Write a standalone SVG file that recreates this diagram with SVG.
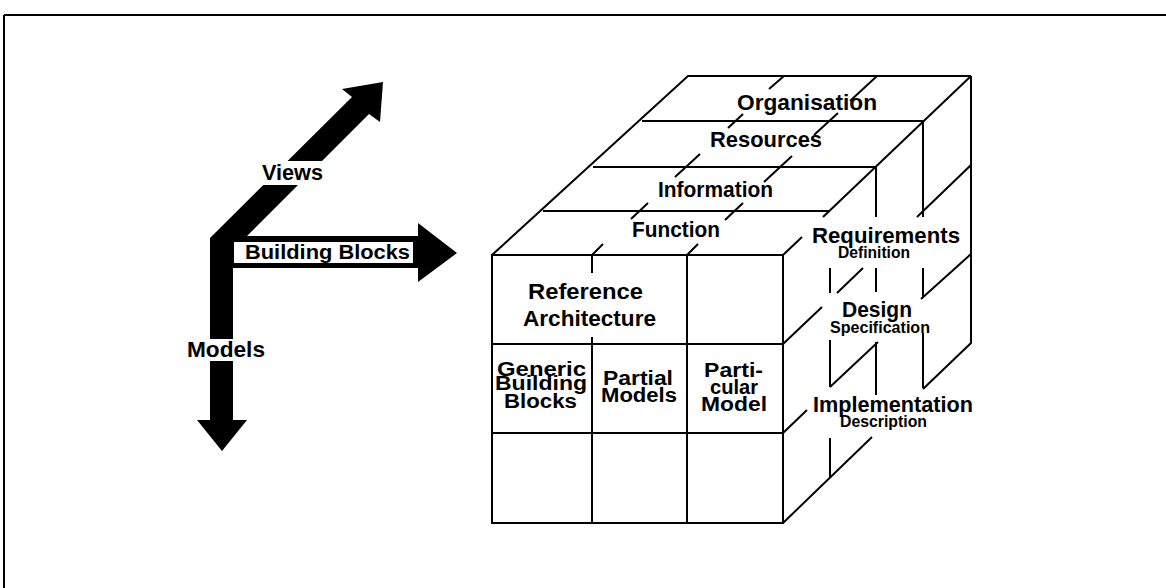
<svg xmlns="http://www.w3.org/2000/svg" width="1166" height="588" viewBox="0 0 1166 588">
<style>
.ln{stroke:#000;stroke-width:2;fill:none;stroke-linecap:butt}
.t{font-family:"Liberation Sans",Arial,Helvetica,sans-serif;font-weight:bold;fill:#000}
.big{font-size:22px}
.cell{font-size:20px}
.sm{font-size:16px}
</style>
<rect x="0" y="0" width="1166" height="588" fill="#fff"/>
<g id="frame">
<path class="ln" d="M4,15 H1166 M4,15 V588"/>
</g>
<g id="axes">
<polygon fill="#000" points="210,420 197,420 222,451 247,420 233,420 233,268 418,268 418,282 457,253 418,223 418,236 247,236 369,114 380,122 383,82 342,89 352,97 210,238"/>
<rect x="234" y="242" width="179" height="21" fill="#fff"/>
<rect x="256" y="161" width="74" height="24" fill="#fff"/>
<rect x="185" y="339" width="83" height="22" fill="#fff"/>
<text class="t big" x="262" y="180" textLength="61" lengthAdjust="spacingAndGlyphs">Views</text>
<text class="t" style="font-size:20px" x="245" y="259" textLength="165" lengthAdjust="spacingAndGlyphs">Building Blocks</text>
<text class="t big" x="187" y="357" textLength="78" lengthAdjust="spacingAndGlyphs">Models</text>
</g>
<g id="connectors">
<rect class="ln" x="492" y="255" width="291" height="268"/>
<path class="ln" d="M492,344 H783 M492,433 H783 M687,255 V523 M592,255 V273 M592,337 V523"/>
<path class="ln" d="M492,255 L688,76 H971 M642,121 H923 M593,167 H877 M543,211 H830"/>
<path class="ln" d="M971,76 L823,217 M802,237 L783,255"/>
<path class="ln" d="M592,255 L603,244 M631,219 L648,203 M675,177 L700,154 M728,128 L743,114 M769,89 L784,76"/>
<path class="ln" d="M687,255 L698,244 M725,220 L743,203 M764,182 L792,156 M814,135 L838,113 M850,101 L877,76"/>
<path class="ln" d="M971,76 V343 L923,389 M872,437 L783,523"/>
<path class="ln" d="M783,344 L822,307 M837,293 L863,268 M917,217 L971,165"/>
<path class="ln" d="M783,433 L807,410 M830,387 L878,342 M921,299 L971,254"/>
<path class="ln" d="M830,268 V293 M830,340 V387 M830,438 V478"/>
<path class="ln" d="M876,167 V217 M876,268 V292 M876,342 V395"/>
<path class="ln" d="M923,121 V217 M923,268 V297 M923,333 V388"/>
</g>
<g id="views-labels">
<text class="t big" x="737" y="110" textLength="140" lengthAdjust="spacingAndGlyphs">Organisation</text>
<text class="t big" x="710" y="147" textLength="112" lengthAdjust="spacingAndGlyphs">Resources</text>
<text class="t big" x="658" y="197" textLength="115" lengthAdjust="spacingAndGlyphs">Information</text>
<text class="t big" x="632" y="237" textLength="88" lengthAdjust="spacingAndGlyphs">Function</text>
</g>
<g id="models-labels">
<text class="t big" x="812" y="243" textLength="148" lengthAdjust="spacingAndGlyphs">Requirements</text>
<text class="t sm" x="838" y="258" textLength="72" lengthAdjust="spacingAndGlyphs">Definition</text>
<text class="t big" x="842" y="317" textLength="70" lengthAdjust="spacingAndGlyphs">Design</text>
<text class="t sm" x="830" y="333" textLength="100" lengthAdjust="spacingAndGlyphs">Specification</text>
<text class="t big" x="813" y="412" textLength="160" lengthAdjust="spacingAndGlyphs">Implementation</text>
<text class="t sm" x="840" y="427" textLength="87" lengthAdjust="spacingAndGlyphs">Description</text>
</g>
<g id="reference-architecture">
<text class="t big" x="528" y="299" textLength="115" lengthAdjust="spacingAndGlyphs">Reference</text>
<text class="t big" x="523" y="326" textLength="133" lengthAdjust="spacingAndGlyphs">Architecture</text>
</g>
<g id="generic-building-blocks">
<text class="t cell" x="497" y="376" textLength="89" lengthAdjust="spacingAndGlyphs">Generic</text>
<text class="t cell" x="495" y="390" textLength="92" lengthAdjust="spacingAndGlyphs">Building</text>
<text class="t cell" x="504" y="408" textLength="73" lengthAdjust="spacingAndGlyphs">Blocks</text>
</g>
<g id="partial-models">
<text class="t cell" x="603" y="385" textLength="70" lengthAdjust="spacingAndGlyphs">Partial</text>
<text class="t cell" x="601" y="402" textLength="76" lengthAdjust="spacingAndGlyphs">Models</text>
</g>
<g id="particular-model">
<text class="t cell" x="704" y="377" textLength="59" lengthAdjust="spacingAndGlyphs">Parti-</text>
<text class="t cell" x="710" y="394" textLength="48" lengthAdjust="spacingAndGlyphs">cular</text>
<text class="t cell" x="701" y="411" textLength="66" lengthAdjust="spacingAndGlyphs">Model</text>
</g>
</svg>
